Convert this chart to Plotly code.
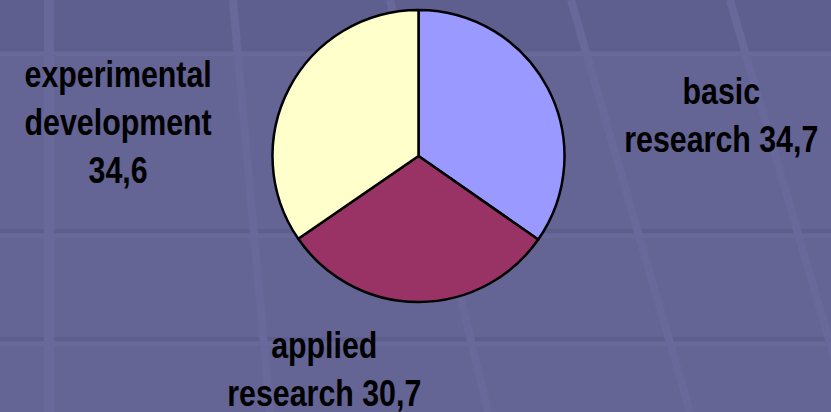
import plotly.graph_objects as go

labels = ["basic research", "applied research", "experimental development"]
values = [34.7, 30.7, 34.6]
colors = ["#9999FF", "#993366", "#FFFFCC"]
label_texts = ["basic<br>research 34,7", "applied<br>research 30,7", "experimental<br>development<br>34,6"]

W, H = 831, 412
cx, cy, r = 418.5, 156, 146

fig = go.Figure()
fig.add_trace(go.Pie(
    labels=labels, values=values, sort=False, direction="clockwise", rotation=0,
    marker=dict(colors=colors, line=dict(color="black", width=2.5)),
    textinfo="none", hoverinfo="label+value", showlegend=False,
    domain=dict(x=[(cx - r) / W, (cx + r) / W], y=[(H - cy - r) / H, (H - cy + r) / H]),
))

# label positions (pixels, from top-left)
label_pos = [(721, 115), (324, 369), (118, 123)]
for t, (px, py) in zip(label_texts, label_pos):
    fig.add_annotation(
        text="<b>" + t + "</b>", x=px / W, y=1 - py / H, xref="paper", yref="paper",
        xanchor="center", yanchor="middle", showarrow=False, align="center",
        font=dict(family="Liberation Sans, Arial, sans-serif", size=37, color="black"),
    )

# decorative background texture
shapes = []
shapes.append(dict(type="rect", xref="paper", yref="paper", x0=0, x1=1, y0=1 - 49 / H, y1=1,
                   fillcolor="#5f5f8f", line_width=0, layer="below"))
for yy in [49, 231, 339]:
    shapes.append(dict(type="line", xref="paper", yref="paper", x0=0, x1=1,
                       y0=1 - yy / H, y1=1 - yy / H, line=dict(color="#5e5e8d", width=4), layer="below"))
    shapes.append(dict(type="line", xref="paper", yref="paper", x0=0, x1=1,
                       y0=1 - (yy + 5) / H, y1=1 - (yy + 5) / H, line=dict(color="#68689a", width=4), layer="below"))
shapes.append(dict(type="line", xref="paper", yref="paper", x0=49 / W, x1=49 / W, y0=0, y1=1,
                   line=dict(color="#68689a", width=10), layer="below"))
for (x0, x1) in [(233, 270), (571, 690), (730, 850), (390, 488)]:
    shapes.append(dict(type="line", xref="paper", yref="paper", x0=x0 / W, x1=x1 / W, y0=1, y1=0,
                       line=dict(color="#68689a", width=8), layer="below"))

fig.update_layout(
    width=W, height=H, margin=dict(l=0, r=0, t=0, b=0),
    paper_bgcolor="#646495", plot_bgcolor="#646495", shapes=shapes,
)

post = """
document.body.style.margin='0';
var gd=document.getElementById('{plot_id}');
gd.querySelectorAll('.annotation-text').forEach(function(t){
  var b=t.getBBox(); var c=b.x+b.width/2;
  t.setAttribute('transform','translate('+c+',0) scale(0.82,1) translate('+(-c)+',0)');
});
"""
fig.write_html("out.html", post_script=post, config={"displayModeBar": False})
